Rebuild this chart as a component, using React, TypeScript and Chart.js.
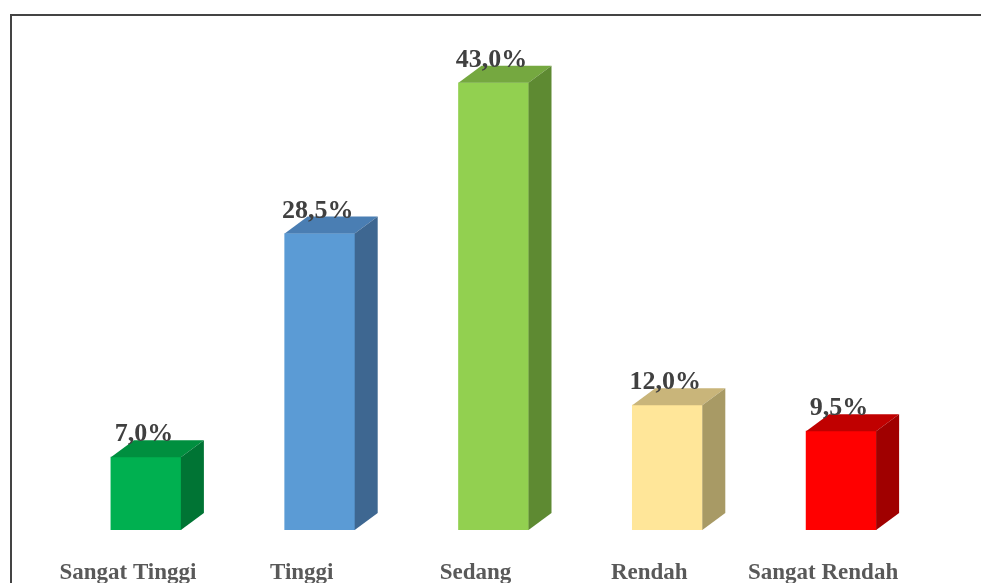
import React, { useEffect, useRef } from "react";
import { Chart, registerables } from "chart.js";

Chart.register(...registerables);

const categories = ["Sangat Tinggi", "Tinggi", "Sedang", "Rendah", "Sangat Rendah"];
const values = [7.0, 28.5, 43.0, 12.0, 9.5];
const frontColors = ["#00B050", "#5B9BD5", "#92D050", "#FFE699", "#FF0000"];
const topColors = ["#008F3F", "#4A7EB3", "#75A840", "#C9B57A", "#C00000"];
const sideColors = ["#007434", "#3E6791", "#5E8A32", "#A89A65", "#A00000"];

const DX = 23;
const DY = 17;

const fmt = (v: number) => v.toFixed(1).replace(".", ",") + "%";

const threeD = {
  id: "threeD",
  beforeDraw(chart: any) {
    const ctx = chart.ctx;
    ctx.save();
    ctx.fillStyle = "#ffffff";
    ctx.fillRect(0, 0, chart.width, chart.height);
    ctx.strokeStyle = "#444444";
    ctx.lineWidth = 2;
    ctx.strokeRect(11, 15, 1100, 800);
    ctx.restore();
  },
  afterDatasetsDraw(chart: any) {
    const ctx = chart.ctx;
    const meta = chart.getDatasetMeta(0);
    ctx.save();
    meta.data.forEach((bar: any, i: number) => {
      const half = bar.width / 2;
      const l = bar.x - half;
      const r = bar.x + half;
      const t = bar.y;
      const b = bar.base;
      ctx.fillStyle = topColors[i];
      ctx.beginPath();
      ctx.moveTo(l, t);
      ctx.lineTo(l + DX, t - DY);
      ctx.lineTo(r + DX, t - DY);
      ctx.lineTo(r, t);
      ctx.closePath();
      ctx.fill();
      ctx.fillStyle = sideColors[i];
      ctx.beginPath();
      ctx.moveTo(r, t);
      ctx.lineTo(r + DX, t - DY);
      ctx.lineTo(r + DX, b - DY);
      ctx.lineTo(r, b);
      ctx.closePath();
      ctx.fill();
      ctx.fillStyle = "#404040";
      ctx.font = "bold 26px 'Liberation Serif', 'Times New Roman', serif";
      ctx.textAlign = "center";
      ctx.textBaseline = "alphabetic";
      ctx.fillText(fmt(values[i]), bar.x - 2, t - DY + 1);
    });
    ctx.restore();
  },
};

export default function App() {
  const ref = useRef<HTMLCanvasElement | null>(null);
  useEffect(() => {
    if (!ref.current) return;
    const chart = new Chart(ref.current, {
      type: "bar",
      data: {
        labels: categories,
        datasets: [
          {
            data: values,
            backgroundColor: frontColors,
            borderWidth: 0,
            barThickness: 70,
          },
        ],
      },
      options: {
        animation: false,
        responsive: false,
        maintainAspectRatio: false,
        layout: { padding: { left: 59, right: 53, top: 10, bottom: 0 } },
        plugins: { legend: { display: false }, tooltip: { enabled: false } },
        scales: {
          y: { display: false, min: 0, max: 50 },
          x: {
            grid: { display: false, drawTicks: false },
            border: { display: false },
            afterFit: (scale: any) => {
              scale.height = 53;
            },
            ticks: {
              padding: 29,
              labelOffset: -18,
              color: "#595959",
              font: { family: "'Liberation Serif', 'Times New Roman', serif", size: 23, weight: "bold" },
            },
          },
        },
      },
      plugins: [threeD],
    });
    return () => chart.destroy();
  }, []);
  return (
    <div style={{ position: "fixed", left: 0, top: 0, width: 981, height: 583, background: "#fff" }}>
      <canvas ref={ref} width={981} height={583} style={{ display: "block", width: 981, height: 583 }} />
    </div>
  );
}
